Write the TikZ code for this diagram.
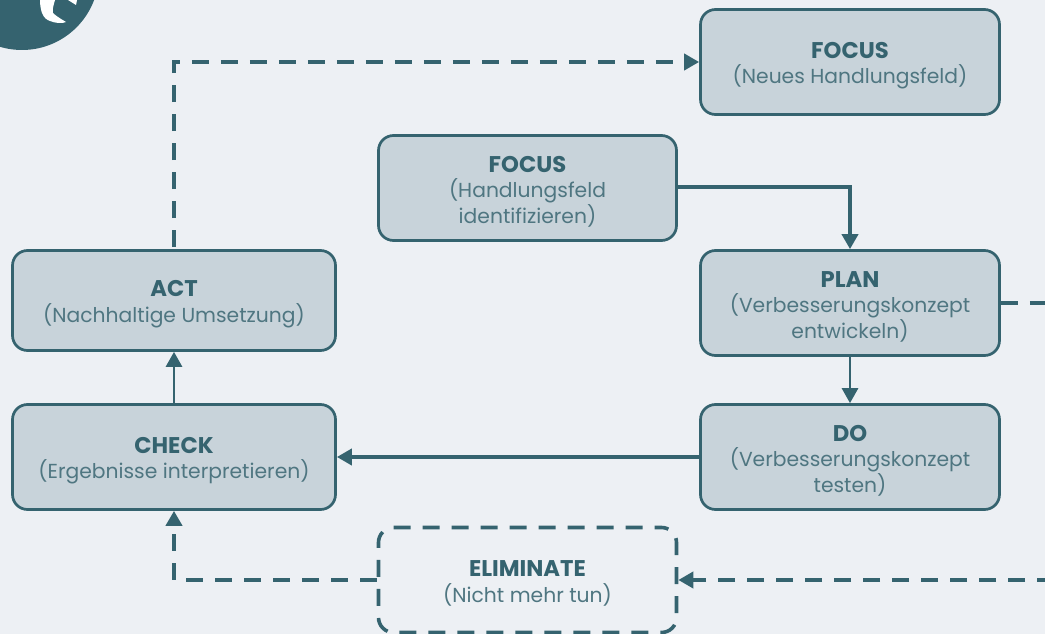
\documentclass[tikz,border=0pt]{standalone}
\usepackage{fontspec}
\setmainfont{Poppins}
\usetikzlibrary{arrows.meta,positioning}
\definecolor{teal}{HTML}{35636F}
\definecolor{subt}{HTML}{4F7681}
\definecolor{boxf}{HTML}{C8D3DA}
\definecolor{bg}{HTML}{EDF0F4}
\newcommand{\ttl}[1]{{\rule{0pt}{23pt}\bfseries\fontsize{22.7}{25}\selectfont\color{teal}#1}\\}
\tikzset{
  x=1pt,y=-1pt,
  boxn/.style={draw=teal,line width=2.7pt,fill=boxf,rounded corners=15pt,align=center,
    inner sep=0pt,text=subt,font=\fontsize{20.3}{25.5}\selectfont,anchor=center},
  elim/.style={boxn,fill=none,dash pattern=on 17pt off 12pt,dash phase=10pt,line width=3.6pt},
  thickc/.style={draw=teal,line width=4.2pt,-{Triangle[length=15pt,width=16pt]}},
  thinc/.style={draw=teal,line width=2.8pt,-{Triangle[length=15pt,width=16pt]}},
  dashc/.style={draw=teal,line width=3.8pt,dash pattern=on 17pt off 12pt,-{Triangle[length=15pt,width=16pt,sep=0pt]}},
  dashn/.style={draw=teal,line width=3.8pt,dash pattern=on 17pt off 12pt},
}
\begin{document}
\begin{tikzpicture}
\useasboundingbox (0,0) rectangle (1045,634);
\fill[bg] (0,0) rectangle (1045,634);
\begin{scope}
\clip (0,0) rectangle (1045,634);
\fill[teal] (22,-27) circle[radius=77];
\fill[white] (40,0) .. controls (40,6) and (41,10) .. (42,13) .. controls (44,18) and (47,20) .. (50,21) .. controls (55,23) and (62,24) .. (66,22) .. controls (61,19) and (56,16) .. (53,13) .. controls (52,9) and (54,4) .. (55,0) -- cycle;
\fill[white] (68,0) -- (76,5) -- (77,0) -- cycle;
\end{scope}
\node[boxn,minimum width=299pt,minimum height=105pt] (focusb) at (850,62) {\ttl{FOCUS}(Neues Handlungsfeld)};
\node[boxn,minimum width=298pt,minimum height=105pt] (focusa) at (527.5,188) {\ttl{FOCUS}(Handlungsfeld\\identifizieren)};
\node[boxn,minimum width=299pt,minimum height=105pt] (plan) at (850,303) {\ttl{PLAN}(Verbesserungskonzept\\entwickeln)};
\node[boxn,minimum width=299pt,minimum height=105pt] (do) at (850,457) {\ttl{DO}(Verbesserungskonzept\\testen)};
\node[boxn,minimum width=323pt,minimum height=100pt] (act) at (174,300.5) {\ttl{ACT}(Nachhaltige Umsetzung)};
\node[boxn,minimum width=323pt,minimum height=105pt] (check) at (174,457) {\ttl{CHECK}(Ergebnisse interpretieren)};
\node[elim,minimum width=298pt,minimum height=105pt] (elim) at (527.5,580) {\ttl{ELIMINATE}(Nicht mehr tun)};
\coordinate (pe) at (1045,303);
\coordinate (ee) at (1045,580);
\draw[thickc] (focusa.east |- 0,187) -| (plan.north);
\draw[thinc] (plan.south) -- (do.north);
\draw[thickc] (do.west) -- (check.east);
\draw[thinc] (check.north) -- (act.south);
\draw[dashc,dash phase=27pt] (act.north) |- (focusb.west);
\draw[dashn] (plan.east) -- (pe);
\draw[dashc,dash phase=9pt] (ee) -- (elim.east);
\draw[dashc] (elim.west) -| (check.south);
\end{tikzpicture}
\end{document}
